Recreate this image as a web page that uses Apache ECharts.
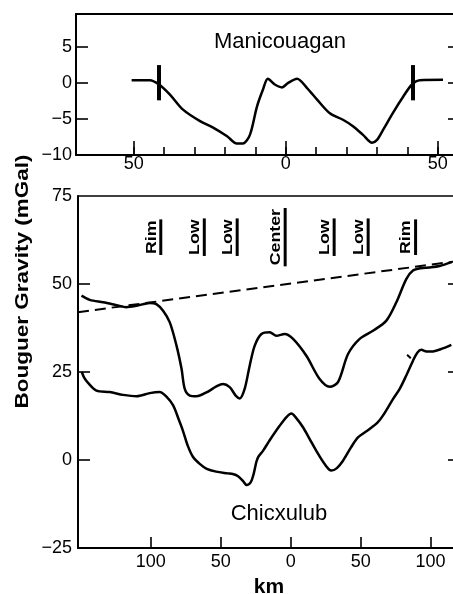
<!DOCTYPE html>
<html>
<head>
<meta charset="utf-8">
<script src="https://cdn.jsdelivr.net/npm/echarts@6/dist/echarts.min.js"></script>
<style>
  html, body { margin: 0; padding: 0; background: #fff; }
  #chart { width: 453px; height: 594px; }
</style>
</head>
<body>
<div id="chart"></div>
<script>
// ---------------- data ----------------
// Manicouagan profile: [km, mGal]
const manicouagan = [
  [-50.7, 0.4], [-44.7, 0.4], [-41.7, -0.2], [-38.1, -1.6], [-33.8, -3.7],
  [-28.2, -5.3], [-23.9, -6.2], [-19.3, -7.4], [-16.1, -8.4], [-14.1, -8.4],
  [-11.8, -7.2], [-9.5, -3.3], [-7.5, -0.9], [-5.9, 0.6], [-3.6, -0.2],
  [-1.25, -0.6], [0.7, 0.0], [3.7, 0.6], [7.0, -0.7], [10.3, -2.3],
  [14.5, -4.2], [18.8, -5.1], [22.1, -6.0], [25.4, -7.2], [28.4, -8.3],
  [30.0, -7.9], [32.0, -6.5], [35.3, -4.1], [38.6, -1.9], [41.5, -0.2],
  [44.1, 0.4], [51.7, 0.45]
];
const manicouaganRimKm = [-41.7, 41.7];
const manicouaganRimSpan = [2.5, -2.4];

// Chicxulub profiles: [km, mGal]
const chicxulubUpper = [
  [-149.5, 46.7], [-143.6, 45.5], [-134, 44.8], [-124.5, 44.0], [-117.4, 43.4],
  [-110.2, 43.8], [-100.7, 44.6], [-96, 44.3], [-91.2, 42.4], [-86.4, 39.1],
  [-81.6, 32.5], [-78, 25.9], [-75.7, 20.2], [-72.1, 18.3], [-67.4, 18.1],
  [-60.2, 19.2], [-53.1, 20.9], [-48.4, 21.6], [-43.6, 20.7], [-39.3, 18.3],
  [-36.4, 17.5], [-32.9, 20.2], [-29.3, 26.8], [-25.7, 32.5], [-20.9, 35.8],
  [-15, 36.3], [-10.2, 35.3], [-4.3, 35.8], [1.7, 34.4], [11.2, 29.6],
  [20.7, 23.0], [27.9, 20.8], [33.8, 22.1], [41, 30.1], [49.3, 34.4],
  [58.8, 36.7], [68.4, 39.6], [75.5, 44.8], [82.6, 51.4], [87.4, 53.8],
  [93, 54.5], [99.3, 54.7], [106.4, 55.1], [115, 56.2]
];
const chicxulubLower = [
  [-149.3, 25], [-147.5, 23.3], [-144.8, 21.9], [-138.8, 19.7], [-129.3, 19.3],
  [-119.8, 18.5], [-110.2, 18.1], [-100.7, 19.0], [-93.6, 19.3], [-88.8, 18.0],
  [-84, 15.5], [-80, 11.5], [-77, 8.3], [-73.5, 4], [-70, 1.0],
  [-65, -1.1], [-60, -2.5], [-53.3, -3.3], [-45, -3.8], [-41.4, -4.0],
  [-37.6, -4.6], [-34, -6.0], [-31.5, -7.1], [-28.5, -6.3], [-26.5, -4],
  [-24.5, -0.5], [-23, 1.0], [-19.8, 2.6], [-15, 5.6], [-7.9, 9.7],
  [-3, 12.2], [0.5, 13.2], [4, 11.9], [8.8, 9.3], [13.5, 6],
  [18.3, 2.6], [24, -1], [29, -3], [33, -2.3], [37.4, -0.2],
  [43, 3.5], [48.1, 6.4], [56.4, 8.8], [62, 10.6], [65.9, 12.6],
  [73.1, 17.3], [77.9, 20.2], [82.6, 24], [87.4, 28.2], [90.5, 30.5],
  [93.4, 31.3], [97, 30.8], [100.5, 30.8], [108.8, 31.7], [114.8, 32.7]
];
const chicxulubStray = [[83.2, 29.9], [85.8, 28.9]];
const regionalTrend = [[-152, 42.0], [121, 56.6]];

// feature annotations (Chicxulub)
const featureNames = ['Rim', 'Low', 'Low', 'Center', 'Low', 'Low', 'Rim'];
const featureKm = [-93.2, -62.1, -38.6, -4.3, 30.7, 55, 88.9];
const featureLevel = 63.3;

// axes ticks / labels
const maniXTicks = [-50, -40, -30, -20, -10, 0, 10, 20, 30, 40, 50];
const maniXLabels = [-50, 0, 50];
const maniYTicks = [-5, 0, 5];
const maniYLabels = [-10, -5, 0, 5];
const chicXLabels = [-100, -50, 0, 50, 100];
const chicYTicks = [0, 25, 50];
const chicYLabels = [-25, 0, 25, 50, 75];

// ---------------- chart ----------------
const FONT = '"Liberation Sans", Arial, Helvetica, sans-serif';
const INK = '#000';
const fmtSigned = v => String(v).replace('-', '\u2212');
const fmtAbs = v => String(Math.abs(v));

const lineAxis = { show: true, onZero: false, lineStyle: { color: INK, width: 2 } };
const noLine = { show: false, onZero: false };
const labelBase = { color: INK, fontSize: 18, fontFamily: FONT };
const MANI_X = { min: -69.0, max: 57.3 };
const CHIC_X = { min: -152, max: 121 };

const option = {
  animation: false,
  backgroundColor: '#fff',
  grid: [
    { left: 76, right: -7, top: 14, bottom: 439, containLabel: false, outerBoundsMode: 'none' },
    { left: 78, right: -7, top: 196, bottom: 46, containLabel: false, outerBoundsMode: 'none' }
  ],
  xAxis: [
    { gridIndex: 0, type: 'value', position: 'bottom', min: MANI_X.min, max: MANI_X.max,
      axisLine: lineAxis, splitLine: { show: false },
      axisTick: { show: true, inside: true, length: 8, customValues: maniXTicks, lineStyle: { color: INK, width: 1.6 } },
      axisLabel: { show: false } },
    { gridIndex: 0, type: 'value', position: 'bottom', min: MANI_X.min, max: MANI_X.max,
      axisLine: noLine, splitLine: { show: false },
      axisTick: { show: true, inside: true, length: 14, customValues: maniXLabels, lineStyle: { color: INK, width: 1.6 } },
      axisLabel: Object.assign({ customValues: maniXLabels, formatter: fmtAbs, margin: 0 }, labelBase) },
    { gridIndex: 0, type: 'value', position: 'top', min: MANI_X.min, max: MANI_X.max,
      axisLine: lineAxis, splitLine: { show: false }, axisTick: { show: false }, axisLabel: { show: false } },
    { gridIndex: 1, type: 'value', position: 'bottom', min: CHIC_X.min, max: CHIC_X.max,
      axisLine: lineAxis, splitLine: { show: false },
      axisTick: { show: true, inside: true, length: 11, customValues: chicXLabels, lineStyle: { color: INK, width: 1.6 } },
      axisLabel: Object.assign({ customValues: chicXLabels, formatter: fmtAbs, margin: 5 }, labelBase),
      name: 'km', nameLocation: 'middle', nameGap: 29,
      nameTextStyle: { color: INK, fontSize: 21, fontWeight: 'bold', fontFamily: FONT } },
    { gridIndex: 1, type: 'value', position: 'top', min: CHIC_X.min, max: CHIC_X.max,
      axisLine: { show: true, onZero: false, lineStyle: { color: INK, width: 1.5 } }, splitLine: { show: false }, axisTick: { show: false }, axisLabel: { show: false } }
  ],
  yAxis: [
    { gridIndex: 0, type: 'value', position: 'left', min: -10, max: 9.6,
      axisLine: lineAxis, splitLine: { show: false },
      axisTick: { show: true, inside: true, length: 12, customValues: maniYTicks, lineStyle: { color: INK, width: 1.6 } },
      axisLabel: Object.assign({ customValues: maniYLabels, formatter: fmtSigned, margin: 4 }, labelBase) },
    { gridIndex: 0, type: 'value', position: 'right', min: -10, max: 9.6,
      axisLine: lineAxis, splitLine: { show: false },
      axisTick: { show: true, inside: true, length: 12, customValues: maniYTicks, lineStyle: { color: INK, width: 1.6 } },
      axisLabel: { show: false } },
    { gridIndex: 1, type: 'value', position: 'left', min: -25, max: 75,
      axisLine: lineAxis, splitLine: { show: false },
      axisTick: { show: true, inside: true, length: 12, customValues: chicYTicks, lineStyle: { color: INK, width: 1.6 } },
      axisLabel: Object.assign({ customValues: chicYLabels, formatter: fmtSigned, margin: 6 }, labelBase) },
    { gridIndex: 1, type: 'value', position: 'right', min: -25, max: 75,
      axisLine: lineAxis, splitLine: { show: false },
      axisTick: { show: true, inside: true, length: 12, customValues: chicYTicks, lineStyle: { color: INK, width: 1.6 } },
      axisLabel: { show: false } }
  ],
  series: [
    { name: 'Manicouagan', type: 'line', xAxisIndex: 0, yAxisIndex: 0,
      data: manicouagan, smooth: 0.3, symbol: 'none',
      lineStyle: { color: INK, width: 2.5 },
      markLine: { silent: true, symbol: ['none', 'none'], label: { show: false },
        lineStyle: { color: INK, width: 4, type: 'solid' },
        data: manicouaganRimKm.map(k => [{ coord: [k, manicouaganRimSpan[0]] }, { coord: [k, manicouaganRimSpan[1]] }]) } },
    { name: 'Chicxulub upper', type: 'line', xAxisIndex: 3, yAxisIndex: 2,
      data: chicxulubUpper, smooth: 0.3, symbol: 'none',
      lineStyle: { color: INK, width: 2.5 } },
    { name: 'Chicxulub lower', type: 'line', xAxisIndex: 3, yAxisIndex: 2,
      data: chicxulubLower, smooth: 0.3, symbol: 'none',
      lineStyle: { color: INK, width: 2.5 },
      markLine: { silent: true, symbol: ['none', 'none'], label: { show: false },
        lineStyle: { color: INK, width: 2, type: 'solid' },
        data: [[{ coord: chicxulubStray[0] }, { coord: chicxulubStray[1] }]] } },
    { name: 'Regional', type: 'line', xAxisIndex: 3, yAxisIndex: 2,
      data: regionalTrend, symbol: 'none',
      lineStyle: { color: INK, width: 2, type: [11, 6] } }
  ]
};

const chart = echarts.init(document.getElementById('chart'), null, { renderer: 'canvas' });
chart.setOption(option);

// annotation graphics
const FEATURE_FONT_SIZE = 14;
const FEATURE_WEIGHT = 'bold';
const FEATURE_STRETCH = 1.27;
const measureCtx = document.createElement('canvas').getContext('2d');
measureCtx.font = FEATURE_WEIGHT + ' ' + FEATURE_FONT_SIZE + 'px ' + FONT;

const graphics = [
  { type: 'text', x: 23.5, y: 281.5, rotation: Math.PI / 2, scaleX: 1.25,
    style: { text: 'Bouguer Gravity (mGal)', fontSize: 18, fontWeight: 'bold', fontFamily: FONT,
      fill: INK, textAlign: 'center', textVerticalAlign: 'middle', verticalAlign: 'middle' } },
  { type: 'text', x: 280, y: 41.5,
    style: { text: 'Manicouagan', fontSize: 22, fontFamily: FONT, fill: INK,
      textAlign: 'center', textVerticalAlign: 'middle', verticalAlign: 'middle' } },
  { type: 'text', x: 279, y: 514,
    style: { text: 'Chicxulub', fontSize: 22, fontFamily: FONT, fill: INK,
      textAlign: 'center', textVerticalAlign: 'middle', verticalAlign: 'middle' } }
];
featureKm.forEach((km, i) => {
  const p = chart.convertToPixel({ seriesIndex: 1 }, [km, featureLevel]);
  const w = measureCtx.measureText(featureNames[i]).width * FEATURE_STRETCH;
  graphics.push({
    type: 'group', x: p[0], y: p[1], rotation: Math.PI / 2,
    children: [
      { type: 'text', x: 0, y: -1.5, scaleX: FEATURE_STRETCH,
        style: { text: featureNames[i], fontSize: FEATURE_FONT_SIZE, fontWeight: FEATURE_WEIGHT, fontFamily: FONT, fill: INK,
          textAlign: 'center', textVerticalAlign: 'bottom', verticalAlign: 'bottom' } },
      { type: 'rect', shape: { x: -w / 2 - 1, y: -1, width: w + 2, height: 3 }, style: { fill: INK } }
    ]
  });
});
chart.setOption({ graphic: graphics });
</script>
</body>
</html>
